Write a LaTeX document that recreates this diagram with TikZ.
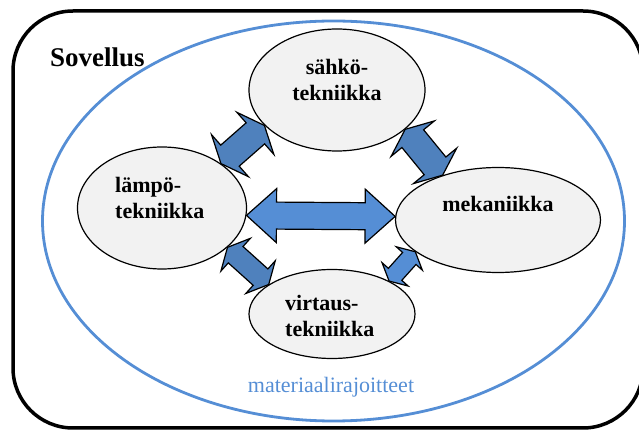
\documentclass[tikz,border=0pt]{standalone}
\usepackage{fontspec}
\setmainfont{Liberation Serif}
\usetikzlibrary{shapes.geometric,calc}
\definecolor{ringblue}{RGB}{85,142,213}
\definecolor{arrowdark}{RGB}{79,129,189}
\definecolor{bubblegray}{RGB}{242,242,242}
\tikzset{
  bubble/.style={ellipse,draw=black,line width=1.2bp,fill=bubblegray,inner sep=0pt},
  lbl/.style={font=\fontsize{22bp}{25.5bp}\selectfont\bfseries,inner sep=0pt},
  dblarrow/.style n args={3}{draw=black,line width=1.2bp,line join=miter,
    to path={let \p1=($(\tikztotarget)-(\tikztostart)$),
      \n1={atan2(\y1,\x1)}, \n2={veclen(\x1,\y1)} in
      {[shift={(\tikztostart)},rotate=\n1]
       (0,0) -- (#3,#2) -- (#3,#1) -- ({\n2*1pt-#3},#1) -- ({\n2*1pt-#3},#2)
       -- ({\n2*1pt},0) -- ({\n2*1pt-#3},-#2) -- ({\n2*1pt-#3},-#1)
       -- (#3,-#1) -- (#3,-#2) -- cycle}}},
}
\begin{document}
\begin{tikzpicture}[>=latex,line join=bevel,]
\useasboundingbox (0bp,0bp) rectangle (639bp,430bp);
\clip (0bp,0bp) rectangle (639bp,430bp);
%%
\draw [black,line width=3.5bp,rounded corners=60bp] (13bp,2bp) rectangle (643bp,419bp);
\draw [ringblue,line width=2.8bp] (333.5bp,209bp) ellipse [x radius=291bp,y radius=200bp];
\node (node_sovellus) at (50bp,373bp) [anchor=west,inner sep=0pt,font=\fontsize{27bp}{30bp}\selectfont\bfseries] {Sovellus};
\node (node_materia) at (331bp,43bp) [inner sep=0pt,text=ringblue,font=\fontsize{22bp}{26bp}\selectfont] {materiaalirajoitteet};
%
  \node (node_sahko) at (337bp,340bp) [bubble,minimum width=176bp,minimum height=122bp] {};
  \node (node_lampo) at (162bp,222bp) [bubble,minimum width=169bp,minimum height=122bp] {};
  \node (node_meka) at (498bp,210bp) [bubble,minimum width=205bp,minimum height=105bp] {};
  \node (node_virtaus) at (332bp,116bp) [bubble,minimum width=166bp,minimum height=89bp] {};
  \node at (337bp,350bp) [lbl,align=center] {sähkö-\\tekniikka};
  \node at (115bp,232bp) [lbl,anchor=west,align=left] {lämpö-\\tekniikka};
  \node at (498bp,226bp) [lbl] {mekaniikka};
  \node at (285bp,114bp) [lbl,anchor=west,align=left] {virtaus-\\tekniikka};
%
  \draw [dblarrow={14bp}{28bp}{12bp},fill=arrowdark] (node_lampo.37) to (node_sahko.206);
  \draw [dblarrow={14bp}{28bp}{12bp},fill=arrowdark] (node_sahko.330) to (node_meka.141);
  \draw [dblarrow={11bp}{22bp}{11bp},fill=arrowdark] (node_lampo.329) to (node_virtaus.155);
  \draw [dblarrow={9bp}{17.5bp}{9bp},fill=ringblue] (node_virtaus.30) to (node_meka.201);
  \draw [dblarrow={13.5bp}{27bp}{30bp},fill=ringblue] (node_lampo.355) to (node_meka.178);
%
\end{tikzpicture}
\end{document}
